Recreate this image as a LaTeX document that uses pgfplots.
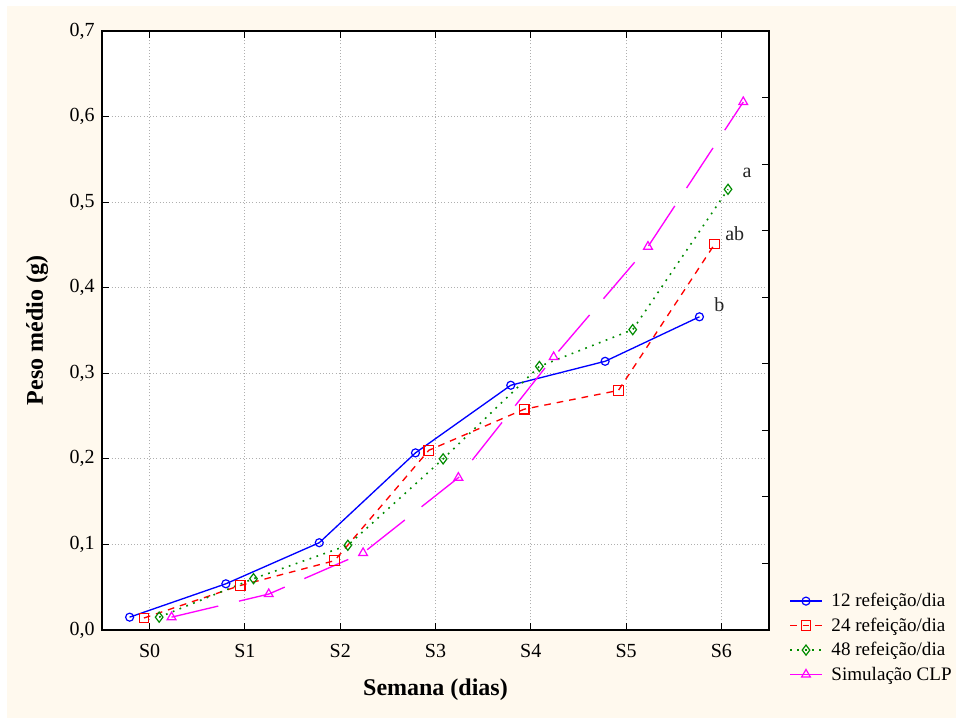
\documentclass[border=0pt]{standalone}
\usepackage{fontspec}
\setmainfont{Liberation Serif}
\usepackage{pgfplots}
\pgfplotsset{compat=1.18}
\definecolor{bgcream}{RGB}{255,249,238}
\definecolor{cblue}{RGB}{0,0,255}
\definecolor{cred}{RGB}{255,0,0}
\definecolor{cgreen}{RGB}{0,140,0}
\definecolor{cmag}{RGB}{255,0,255}
\definecolor{gridgray}{RGB}{175,175,175}
\begin{document}
\begin{tikzpicture}
\fill[white] (-76.5pt,-66pt) rectangle (640.5pt,472.5pt);
\fill[bgcream] (-71.25pt,-66pt) rectangle (640.5pt,468pt);
\begin{axis}[
  at={(0,0)}, anchor=south west,
  scale only axis, width=500.25pt, height=449.25pt,
  xmin=-0.5, xmax=6.5, ymin=0, ymax=0.7,
  axis background/.style={fill=white},
  axis line style={line width=1pt},
  xtick={0,1,2,3,4,5,6},
  xticklabels={S0,S1,S2,S3,S4,S5,S6},
  ytick={0,0.1,0.2,0.3,0.4,0.5,0.6,0.7},
  yticklabels={{0,0},{0,1},{0,2},{0,3},{0,4},{0,5},{0,6},{0,7}},
  tick align=inside,
  xtick pos=both, ytick pos=left,
  major tick length=5pt,
  tick style={line width=0.8pt, black},
  grid=major,
  grid style={gridgray, line width=0.8pt, dash pattern=on 0.8pt off 1.6pt},
  ticklabel style={font=\fontsize{15}{17}\selectfont},
  xticklabel style={yshift=-7pt},
  yticklabel style={xshift=-2pt},
  xlabel={\textbf{Semana (dias)}},
  ylabel={\textbf{Peso médio (g)}},
  label style={font=\fontsize{18}{20}\selectfont},
  xlabel style={at={(axis description cs:0.5,-0.1)}, anchor=center},
  ylabel style={at={(axis description cs:-0.097,0.5)}, anchor=center, rotate=0},
  legend style={at={(axis description cs:1.03,0.066)}, anchor=north west,
    draw=none, fill=none, font=\fontsize{14.3}{16}\selectfont,
    row sep=2.8pt, inner sep=0pt},
  legend cell align=left,
  legend image code/.code={\draw[mark repeat=2,mark phase=2] plot coordinates {(0cm,0cm) (0.42cm,0cm) (0.84cm,0cm)};\path (0cm,0cm) (1.0cm,0cm);},
  clip=false,
]
\addplot[cblue, line width=1pt, mark=o, mark size=3pt, mark options={solid, fill=white, line width=0.9pt}]
  coordinates {(-0.21,0.015) (0.80,0.054) (1.78,0.102) (2.79,0.207) (3.79,0.286) (4.78,0.314) (5.77,0.366)};
\addlegendentry{12 refeição/dia}
\addplot[cred, line width=1pt, dash pattern=on 5pt off 4.5pt, mark=square, mark size=3.6pt, mark options={solid, fill=white, line width=0.9pt}]
  coordinates {(-0.06,0.014) (0.95,0.052) (1.94,0.081) (2.93,0.210) (3.93,0.258) (4.92,0.280) (5.93,0.451)};
\addlegendentry{24 refeição/dia}
\addplot[cgreen, line width=1.2pt, dash pattern=on 1.3pt off 4.2pt, mark=diamond, mark size=3.8pt, mark options={solid, fill=white, line width=0.9pt}]
  coordinates {(0.10,0.015) (1.09,0.060) (2.08,0.099) (3.08,0.200) (4.09,0.308) (5.07,0.351) (6.07,0.515)};
\addlegendentry{48 refeição/dia}
\addplot[cmag, line width=1pt, dash pattern=on 36pt off 16pt, mark=triangle, mark size=3.8pt, mark options={solid, fill=white, line width=0.9pt}]
  coordinates {(0.23,0.015) (1.25,0.042) (2.24,0.090) (3.24,0.178) (4.24,0.319) (5.23,0.448) (6.23,0.617)};
\addlegendentry{Simulação CLP}
\node[font=\fontsize{15}{17}\selectfont, text=black!85] at (axis cs:6.27,0.534) {a};
\node[font=\fontsize{15}{17}\selectfont, text=black!85] at (axis cs:6.14,0.463) {ab};
\node[font=\fontsize{15}{17}\selectfont, text=black!85] at (axis cs:5.98,0.380) {b};
\end{axis}
\begin{axis}[
  at={(0,0)}, anchor=south west,
  scale only axis, width=500.25pt, height=449.25pt,
  xmin=-0.5, xmax=6.5, ymin=0, ymax=0.7,
  hide x axis,
  axis line style={line width=1pt},
  ytick={0.07778,0.15556,0.23333,0.31111,0.38889,0.46667,0.54444,0.62222},
  yticklabels={},
  ytick pos=right, tick align=inside,
  major tick length=5pt,
  tick style={line width=0.8pt, black},
]
\end{axis}
\pgfresetboundingbox
\useasboundingbox (-76.5pt,-66pt) rectangle (640.5pt,472.5pt);
\end{tikzpicture}
\end{document}
